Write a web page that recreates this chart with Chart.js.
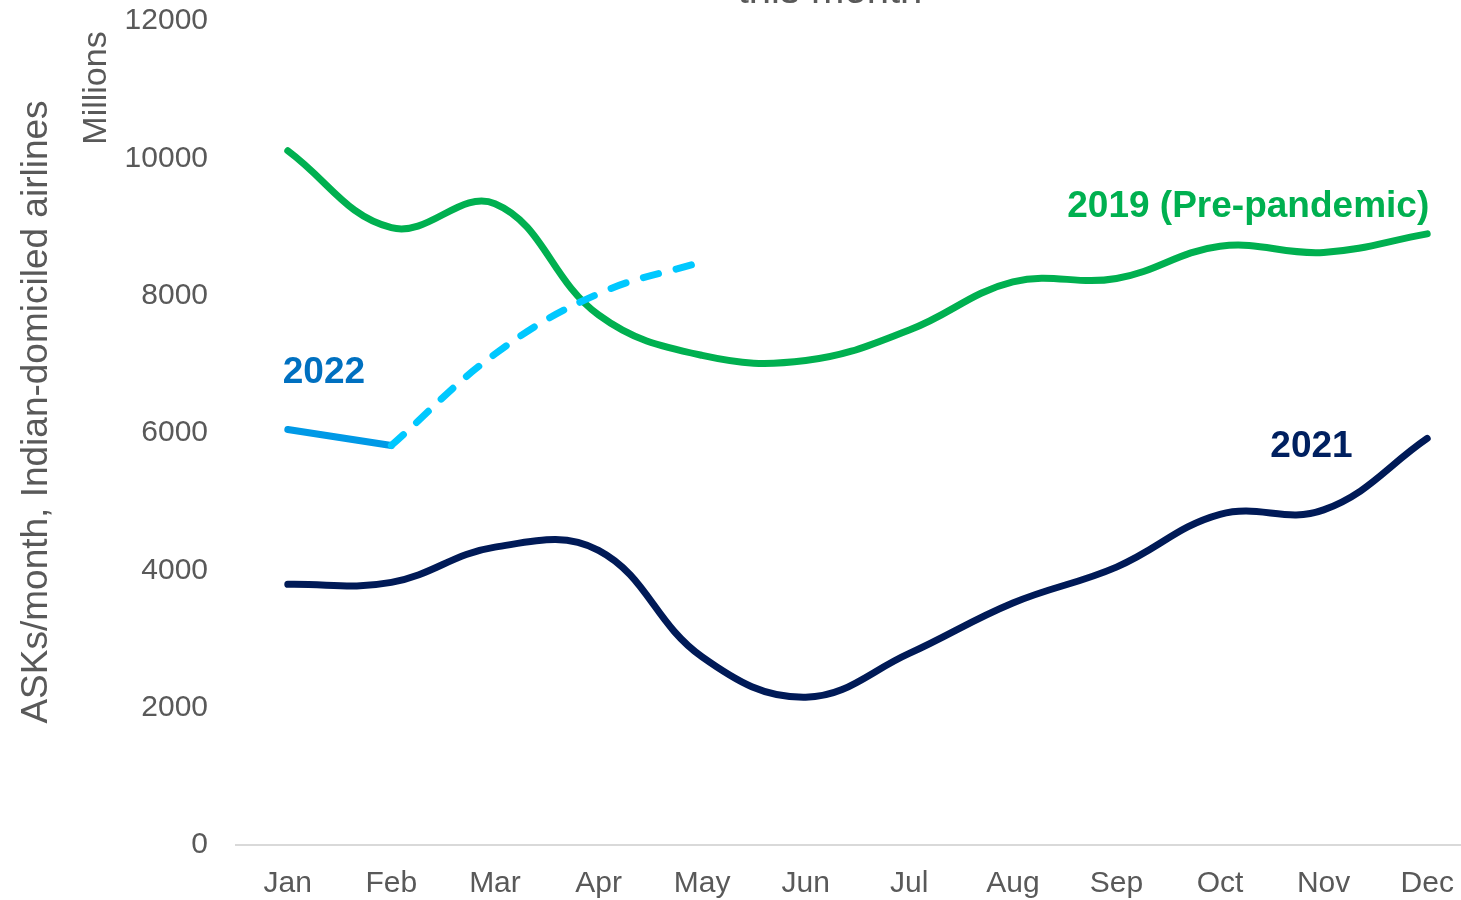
<!DOCTYPE html>
<html>
<head>
<meta charset="utf-8">
<title>ASKs per month, Indian-domiciled airlines</title>
<script src="https://cdn.jsdelivr.net/npm/chart.js@4.4.1/dist/chart.umd.min.js"></script>
<style>
  html, body { margin: 0; padding: 0; background: #fff; overflow: hidden; }
  #wrap { position: absolute; left: 0; top: 0; width: 1480px; height: 900px; }
</style>
</head>
<body>
<div id="wrap"><canvas id="chart" width="1480" height="900"></canvas></div>
<script>
// months on the category axis
const months = ['Jan', 'Feb', 'Mar', 'Apr', 'May', 'Jun', 'Jul', 'Aug', 'Sep', 'Oct', 'Nov', 'Dec'];

// ASKs per month, millions
const ask2019 = [10110, 8990, 9340, 7720, 7130, 7055, 7500, 8200, 8250, 8720, 8630, 8900];
const ask2021 = [3796, 3825, 4338, 4290, 2739, 2153, 2790, 3524, 4047, 4815, 4880, 5920];
const ask2022 = [6051, 5818, null, null, null, null, null, null, null, null, null, null];
const ask2022Plan = [null, 5818, 7150, 8029, 8495, null, null, null, null, null, null, null];

const yTicks = [0, 2000, 4000, 6000, 8000, 10000, 12000];

const GREY = '#595959';
const FONT = '"Liberation Sans", Arial, sans-serif';

// draws the series labels, axis titles and the clipped title
const textPlugin = {
  id: 'texts',
  afterDraw(chart) {
    const { ctx, scales: { x, y } } = chart;
    ctx.save();

    // title, mostly above the picture
    ctx.fillStyle = GREY;
    ctx.font = '40px ' + FONT;
    ctx.textAlign = 'center';
    ctx.textBaseline = 'alphabetic';
    ctx.fillText('this month', 830, 3);

    // y axis titles
    ctx.save();
    ctx.translate(47, 412);
    ctx.rotate(-Math.PI / 2);
    ctx.font = '37px ' + FONT;
    ctx.fillText('ASKs/month, Indian-domiciled airlines', 0, 0);
    ctx.restore();

    ctx.save();
    ctx.translate(106, 88);
    ctx.rotate(-Math.PI / 2);
    ctx.font = '34px ' + FONT;
    ctx.fillText('Millions', 0, 0);
    ctx.restore();

    // series labels
    ctx.font = 'bold 37px ' + FONT;
    ctx.textAlign = 'left';
    ctx.fillStyle = '#0070c0';
    ctx.fillText('2022', x.getPixelForValue(0) - 5, y.getPixelForValue(6730));

    ctx.textAlign = 'right';
    ctx.fillStyle = '#00b050';
    ctx.fillText('2019 (Pre-pandemic)', x.getPixelForValue(11) + 2, y.getPixelForValue(9150));

    ctx.fillStyle = '#002060';
    ctx.fillText('2021', x.getPixelForValue(10) + 29, y.getPixelForValue(5650));

    ctx.restore();
  }
};

new Chart(document.getElementById('chart'), {
  type: 'line',
  data: {
    labels: months,
    datasets: [
      {
        label: '2022 (plan)',
        data: ask2022Plan,
        borderColor: '#00c8ff',
        borderWidth: 7,
        borderDash: [16, 18],
        borderCapStyle: 'round',
        tension: 0.4,
        order: 0
      },
      {
        label: '2022',
        data: ask2022,
        borderColor: '#0099e6',
        borderWidth: 7,
        borderCapStyle: 'round',
        tension: 0,
        order: 1
      },
      {
        label: '2019 (Pre-pandemic)',
        data: ask2019,
        borderColor: '#00b050',
        borderWidth: 7,
        borderCapStyle: 'round',
        tension: 0.4,
        order: 2
      },
      {
        label: '2021',
        data: ask2021,
        borderColor: '#001a57',
        borderWidth: 7,
        borderCapStyle: 'round',
        tension: 0.4,
        order: 3
      }
    ]
  },
  options: {
    responsive: false,
    animation: false,
    devicePixelRatio: 1,
    elements: { point: { radius: 0, hoverRadius: 0 } },
    layout: { padding: { top: 21, right: 1, left: 0, bottom: 0 } },
    plugins: { legend: { display: false }, tooltip: { enabled: false }, title: { display: false } },
    scales: {
      x: {
        offset: true,
        grid: { display: false },
        border: { display: true, color: '#d9d9d9', width: 2 },
        ticks: { color: GREY, font: { family: FONT, size: 30 }, padding: 13, maxRotation: 0 },
        afterFit(scale) { scale.height = 55; scale.paddingLeft = 0; scale.paddingRight = 0; }
      },
      y: {
        min: 0,
        max: 12000,
        afterBuildTicks(scale) { scale.ticks = yTicks.map(v => ({ value: v })); },
        grid: { display: false },
        border: { display: false },
        ticks: { color: GREY, font: { family: FONT, size: 30 }, padding: 20, callback: v => String(v) },
        afterFit(scale) { scale.width = 236; scale.paddingTop = 0; scale.paddingBottom = 0; }
      }
    }
  },
  plugins: [textPlugin]
});
</script>
</body>
</html>
